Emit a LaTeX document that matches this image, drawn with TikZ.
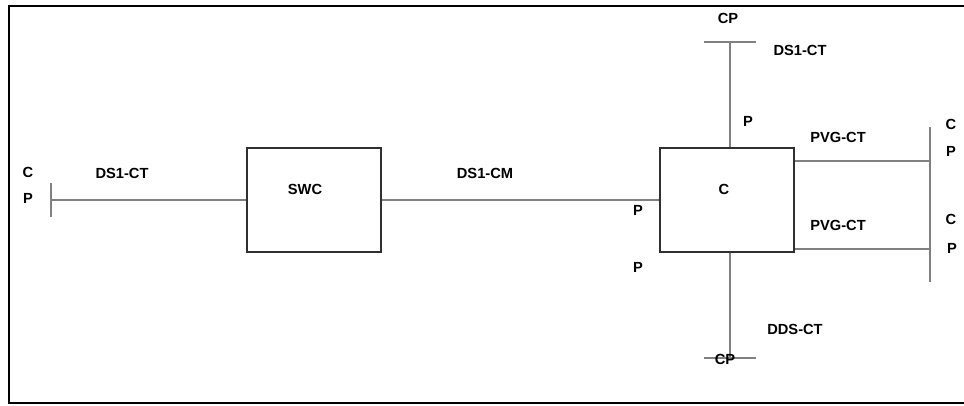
\documentclass[tikz,border=0pt]{standalone}
\usepackage{fontspec}
\setmainfont{Liberation Sans}
\definecolor{wire}{HTML}{808080}
\definecolor{edge}{HTML}{303030}
\begin{document}
\begin{tikzpicture}[x=0.75pt,y=-0.75pt,
  lbl/.style={font=\bfseries\fontsize{11pt}{13pt}\selectfont, inner sep=0pt, text=black},
  blk/.style={draw=edge, line width=0.8pt, fill=white, minimum width=100.5pt, minimum height=78pt, inner sep=0pt},
  wireline/.style={draw=wire, line width=0.8pt}]
\useasboundingbox (0,0) rectangle (964,405);
% frame
\draw[line width=2pt] (990,6) -- (9,6) -- (9,403) -- (990,403);
% blocks
\node[blk] (swc) at (314,200) {};
\node[blk] (cb) at (727,200) {};
% coordinates
\coordinate (lend) at (51,200);
\coordinate (lt1) at (51,183);
\coordinate (lt2) at (51,217);
\coordinate (ttop) at (730,42);
\coordinate (tt1) at (704,42);
\coordinate (tt2) at (756,42);
\coordinate (bbot) at (730,358);
\coordinate (bt1) at (704,358);
\coordinate (bt2) at (756,358);
\coordinate (r1) at (930,161);
\coordinate (r2) at (930,249);
\coordinate (rt1) at (930,127);
\coordinate (rt2) at (930,282);
% wires
\draw[wireline] (lt1) -- (lt2);
\draw[wireline] (lend) -- (swc.west);
\draw[wireline] (swc.east) -- (cb.west);
\draw[wireline] (tt1) -- (tt2);
\draw[wireline] (ttop) -- (ttop |- cb.north);
\draw[wireline] (bbot |- cb.south) -- (bbot);
\draw[wireline] (bt1) -- (bt2);
\draw[wireline] (cb.east |- r1) -- (r1);
\draw[wireline] (cb.east |- r2) -- (r2);
\draw[wireline] (rt1) -- (rt2);
% labels
\node[lbl] (l1) at (28,172) {C};
\node[lbl] (l2) at (28,198) {P};
\node[lbl] (l3) at (122,173) {DS1-CT};
\node[lbl] (l4) at (305,189) {SWC};
\node[lbl] (l5) at (485,173) {DS1-CM};
\node[lbl] (l6) at (638,210) {P};
\node[lbl] (l7) at (724,189) {C};
\node[lbl] (l8) at (728,18) {CP};
\node[lbl] (l9) at (800,50) {DS1-CT};
\node[lbl] (l10) at (748,121) {P};
\node[lbl] (l11) at (838,137) {PVG-CT};
\node[lbl] (l12) at (838,225) {PVG-CT};
\node[lbl] (l13) at (951,124) {C};
\node[lbl] (l14) at (951,151) {P};
\node[lbl] (l15) at (951,219) {C};
\node[lbl] (l16) at (952,248) {P};
\node[lbl] (l17) at (638,267) {P};
\node[lbl] (l18) at (795,329) {DDS-CT};
\node[lbl] (l19) at (725,359) {CP};
\end{tikzpicture}
\end{document}
